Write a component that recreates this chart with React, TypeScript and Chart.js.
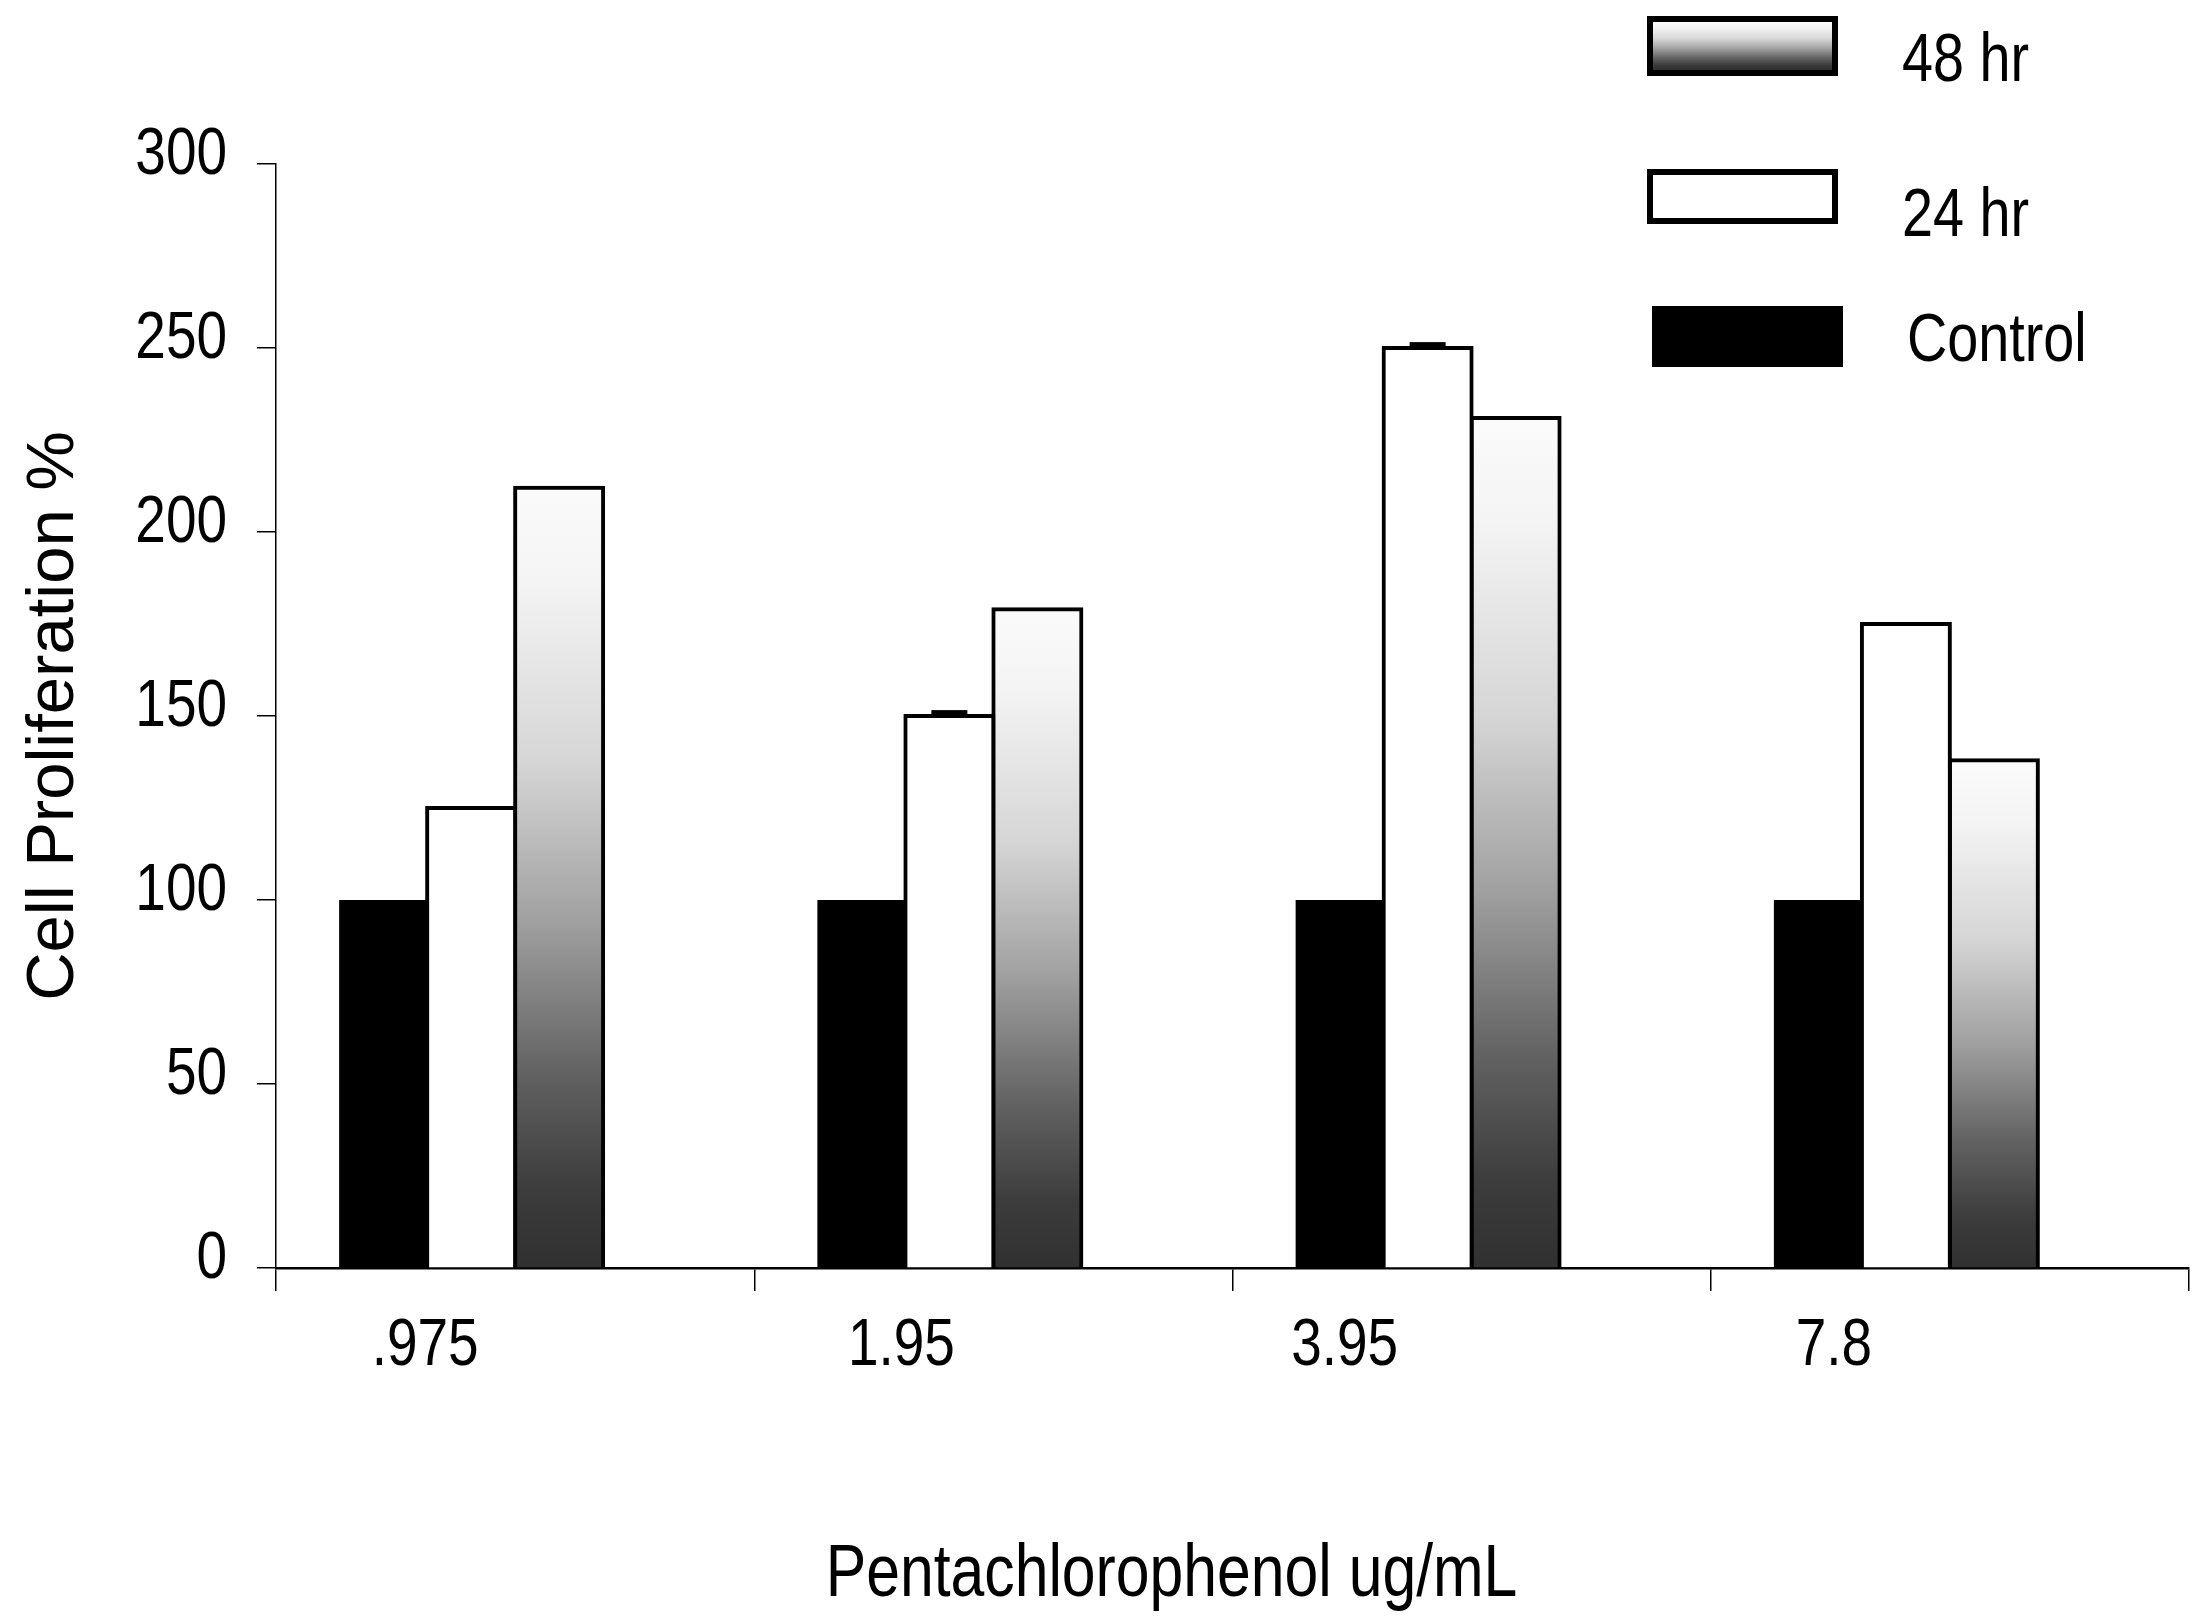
import { useEffect, useRef } from 'react';
import { Chart, registerables, Plugin, ScriptableContext } from 'chart.js';

Chart.register(...registerables);

// values
const concentrations = ['.975', '1.95', '3.95', '7.8'];
const controlValues = [100, 100, 100, 100];
const hr24Values = [125, 150, 250, 175];
const hr48Values = [212, 179, 231, 138];
const hr24Errors = [0, 1.6, 1.6, 0];
const yTickValues = [0, 50, 100, 150, 200, 250, 300];
const seriesLabels = ['Control', '24 hr', '48 hr'];

// the category labels in the original sit left of the category centre, each by its own amount
const labelShift = [-90, -92, -127, -116];

const REGULAR = '"Liberation Sans", Arial, sans-serif';
// no narrow face is installed, so the Arial Narrow look is made by squeezing Liberation Sans
const SQUEEZE = 0.82;

const W = 2201;
const H = 1621;

function shadeStops(g: CanvasGradient) {
  g.addColorStop(0, '#fbfbfb');
  g.addColorStop(0.12, '#f4f4f4');
  g.addColorStop(0.35, '#d6d6d6');
  g.addColorStop(0.55, '#a2a2a2');
  g.addColorStop(0.75, '#626262');
  g.addColorStop(0.9, '#3c3c3c');
  g.addColorStop(1, '#303030');
  return g;
}

// per-bar vertical gradient, white at the top of each bar, dark at the base
const barShade = (c: ScriptableContext<'bar'>) => {
  const chart = c.chart;
  const y = chart.scales.y;
  if (!chart.chartArea || !y || c.type !== 'data') return '#999';
  const top = y.getPixelForValue(c.raw as number);
  const base = y.getPixelForValue(0);
  return shadeStops(chart.ctx.createLinearGradient(0, top, 0, base));
};

function narrowText(
  ctx: CanvasRenderingContext2D,
  text: string,
  x: number,
  y: number,
  size: number,
  align: CanvasTextAlign,
) {
  ctx.save();
  ctx.translate(x, y);
  ctx.scale(SQUEEZE, 1);
  ctx.fillStyle = '#000';
  ctx.font = `${size}px ${REGULAR}`;
  ctx.textAlign = align;
  ctx.textBaseline = 'middle';
  ctx.fillText(text, 0, 0);
  ctx.restore();
}

// legend boxes sit above the top right of the plot, in reverse order
const legendRows = [
  { series: 2, box: [1647, 16, 191, 60], textX: 1902, textY: 62 },
  { series: 1, box: [1647, 169, 191, 55], textX: 1902, textY: 217 },
  { series: 0, box: [1652, 306, 191, 61], textX: 1907, textY: 342 },
];

const legendPlugin: Plugin<'bar'> = {
  id: 'boxLegend',
  afterDraw(chart) {
    const ctx = chart.ctx;
    ctx.save();
    legendRows.forEach((row) => {
      const [x, y, w, h] = row.box;
      const b = 6;
      ctx.fillStyle = '#000';
      ctx.fillRect(x, y, w, h);
      if (row.series === 2) {
        ctx.fillStyle = shadeStops(ctx.createLinearGradient(0, y + b, 0, y + h - b));
        ctx.fillRect(x + b, y + b, w - 2 * b, h - 2 * b);
      } else if (row.series === 1) {
        ctx.fillStyle = '#fff';
        ctx.fillRect(x + b, y + b, w - 2 * b, h - 2 * b);
      }
      narrowText(ctx, seriesLabels[row.series], row.textX, row.textY, 68, 'left');
    });
    ctx.restore();
  },
};

// tick labels and the x caption, drawn narrow at the positions of the chart's own scales
const labelPlugin: Plugin<'bar'> = {
  id: 'narrowLabels',
  afterDraw(chart) {
    const ctx = chart.ctx;
    const { x, y } = chart.scales;
    y.ticks.forEach((t) => {
      narrowText(ctx, String(t.value), y.right - 19 - 30, y.getPixelForValue(t.value) - 8, 67, 'right');
    });
    concentrations.forEach((label, i) => {
      narrowText(ctx, label, x.getPixelForValue(i) + labelShift[i], x.top + 79, 67, 'center');
    });
    narrowText(ctx, 'Pentachlorophenol ug/mL', (x.left + x.right) / 2 - 61, 1576, 74, 'center');
  },
};

const errorPlugin: Plugin<'bar'> = {
  id: 'errorCaps',
  afterDatasetsDraw(chart) {
    const ctx = chart.ctx;
    const y = chart.scales.y;
    const meta = chart.getDatasetMeta(1);
    ctx.save();
    ctx.fillStyle = '#000';
    meta.data.forEach((bar: any, i) => {
      const e = hr24Errors[i];
      if (!e) return;
      const top = y.getPixelForValue(hr24Values[i] + e);
      const base = y.getPixelForValue(hr24Values[i]);
      ctx.fillRect(bar.x - 18, top, 36, base - top);
    });
    ctx.restore();
  },
};

export default function App() {
  const canvasRef = useRef<HTMLCanvasElement>(null);
  const chartRef = useRef<Chart | null>(null);

  useEffect(() => {
    document.body.style.margin = '0';
    if (!canvasRef.current) return;
    if (chartRef.current) chartRef.current.destroy();

    chartRef.current = new Chart(canvasRef.current, {
      type: 'bar',
      data: {
        labels: concentrations,
        datasets: [
          {
            label: seriesLabels[0],
            data: controlValues,
            backgroundColor: '#000',
            borderWidth: 0,
          },
          {
            label: seriesLabels[1],
            data: hr24Values,
            backgroundColor: '#fff',
            borderColor: '#000',
            borderWidth: 4,
            inflateAmount: 2,
          },
          {
            label: seriesLabels[2],
            data: hr48Values,
            backgroundColor: barShade,
            borderColor: '#000',
            borderWidth: 4,
            inflateAmount: 2,
          },
          // empty slot: the original groups sit left of each category centre
          {
            label: '',
            data: [],
            backgroundColor: 'transparent',
            borderWidth: 0,
          },
        ],
      },
      plugins: [errorPlugin, legendPlugin, labelPlugin],
      options: {
        animation: false,
        responsive: true,
        maintainAspectRatio: false,
        devicePixelRatio: 1,
        categoryPercentage: 0.736,
        barPercentage: 1,
        layout: { padding: { top: 164, right: 12, left: 0, bottom: 0 } },
        plugins: {
          legend: { display: false },
          tooltip: { enabled: false },
        },
        scales: {
          x: {
            type: 'category',
            z: 1,
            offset: true,
            grid: {
              offset: true,
              drawOnChartArea: false,
              drawTicks: true,
              tickLength: 23,
              color: '#000',
              lineWidth: 1.5,
            },
            border: { display: true, color: '#000', width: 2.5 },
            ticks: { display: false, autoSkip: false },
            afterFit: (s) => {
              s.height = 353;
            },
          },
          y: {
            min: 0,
            max: 300,
            afterBuildTicks: (s) => {
              s.ticks = yTickValues.map((v) => ({ value: v }));
            },
            grid: {
              drawOnChartArea: false,
              tickLength: 19,
              color: '#000',
              lineWidth: 1.5,
            },
            border: { display: true, color: '#000', width: 1.5 },
            ticks: { display: false },
            title: {
              display: true,
              text: 'Cell Proliferation %',
              color: '#000',
              font: { family: REGULAR, size: 67, lineHeight: 1 },
              padding: { top: 21, bottom: 0 },
            },
            afterFit: (s) => {
              s.width = 276;
            },
          },
        },
      },
    });

    return () => {
      if (chartRef.current) {
        chartRef.current.destroy();
        chartRef.current = null;
      }
    };
  }, []);

  return (
    <div style={{ position: 'relative', width: W, height: H, background: '#fff' }}>
      <canvas ref={canvasRef} role="img" aria-label="Grouped bar chart of cell proliferation by pentachlorophenol concentration" />
    </div>
  );
}
